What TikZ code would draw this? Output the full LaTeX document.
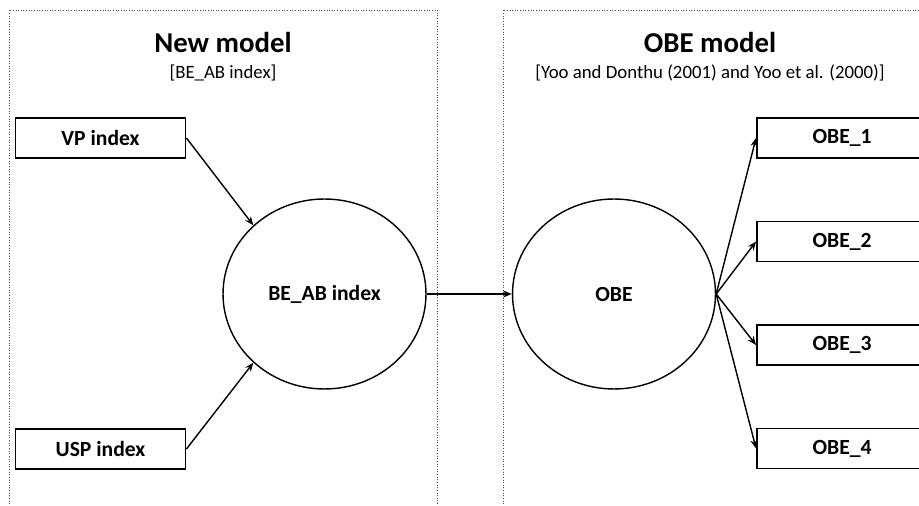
\documentclass[tikz,border=0pt]{standalone}
\usepackage{fontspec}
\setmainfont{Carlito}
\usetikzlibrary{arrows.meta,shapes.geometric}
\tikzset{
  panel/.style={densely dotted, line width=0.5pt, black!70},
  idxbox/.style={draw, line width=1.1pt, minimum width=3.4cm, minimum height=0.8cm,
    inner sep=0pt, font=\fontsize{12.3}{14}\selectfont\bfseries},
  latent/.style={draw, ellipse, line width=0.8pt, minimum width=4.06cm, minimum height=3.8cm,
    inner sep=0pt, font=\fontsize{12.3}{14}\selectfont\bfseries},
  title/.style={font=\fontsize{16.4}{18}\selectfont\bfseries},
  subtitle/.style={font=\fontsize{10.7}{12}\selectfont},
  link/.style={line width=0.8pt, -{Stealth[length=5pt,width=4pt]}}
}

\begin{document}
\begin{tikzpicture}[x=0.02cm, y=-0.02cm]
    \clip (0,0) rectangle (919,506);
    \useasboundingbox (0,0) rectangle (919,506);
    % the two panels
    \draw[panel] (9,520) -- (9,10) -- (437,10) -- (437,520);
    \draw[panel] (503,520) -- (503,10) -- (940,10);
    \node[title] (newt) at (223,43) {New model};
    \node[subtitle] (news) at (223,73) {[BE\_AB index]};
    \node[title] (obet) at (710,43) {OBE model};
    \node[subtitle] (obes) at (710,73) {[Yoo and Donthu (2001) and Yoo et al. (2000)]};
    % new model
    \node[idxbox] (vp) at (100.5,138) {VP index};
    \node[idxbox] (usp) at (100.5,449) {USP index};
    \node[latent] (be) at (324.5,294) {BE\_AB index};
    \draw[link] (vp.east) -- (be.136);
    \draw[link] (usp.east) -- (be.224);
    % OBE model
    \node[latent] (obe) at (614,294) {OBE};
    \node[idxbox] (o1) at (842,138) {OBE\_1};
    \node[idxbox] (o2) at (842,241.5) {OBE\_2};
    \node[idxbox] (o3) at (842,345) {OBE\_3};
    \node[idxbox] (o4) at (842,448.5) {OBE\_4};
    \draw[link] (be.east) -- (obe.west);
    \foreach \o in {o1,o2,o3,o4}
        \draw[link] (obe.east) -- (\o.west);
\end{tikzpicture}
\end{document}
